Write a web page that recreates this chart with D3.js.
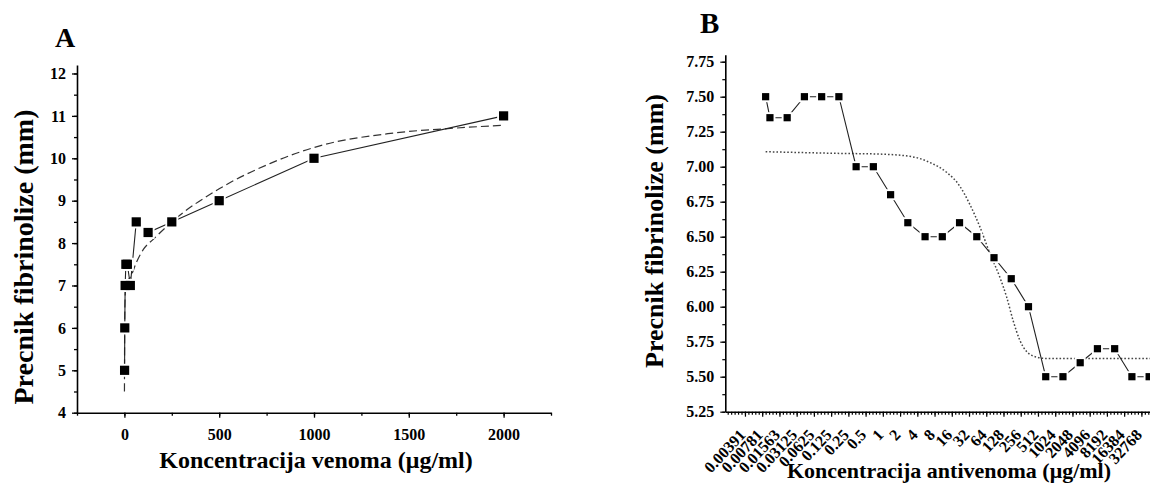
<!DOCTYPE html>
<html>
<head>
<meta charset="utf-8">
<script src="https://cdn.jsdelivr.net/npm/d3@7"></script>
<style>
  html, body { margin: 0; padding: 0; background: #fff; }
  svg text { font-family: "Liberation Serif", "Times New Roman", serif; font-weight: bold; fill: #000; }
</style>
</head>
<body>
<svg id="chart" width="1150" height="489"></svg>
<script>
// ---------- Panel A data ----------
const venomConc = [0.98, 1.95, 3.9, 7.8, 15.6, 31.25, 62.5, 125, 250, 500, 1000, 2000];
const venomDiam = [5, 6, 7, 7.5, 7.5, 7, 8.5, 8.25, 8.5, 9, 10, 11];
// fitted curve
const fitAConc = [0.3, 1, 2, 4, 8, 16, 32, 64, 100, 155, 250, 500, 770, 1035, 1390, 1740, 2000];
const fitADiam = [4.5, 5.6, 6.3, 6.75, 7.0, 7.1, 7.2, 7.55, 7.85, 8.1, 8.5, 9.28, 9.88, 10.3, 10.58, 10.71, 10.78];
const xTicksA = [0, 500, 1000, 1500, 2000];
const yTicksA = [4, 5, 6, 7, 8, 9, 10, 11, 12];

// ---------- Panel B data ----------
const antivenomLabels = ["0.00391", "0.00781", "0.01563", "0.03125", "0.0625", "0.125", "0.25", "0.5",
  "1", "2", "4", "8", "16", "32", "64", "128", "256", "512", "1024", "2048", "4096", "8192", "16384", "32768"];
const antivenomPos = [0.75, 1, 2, 3, 4, 5, 6, 7, 8, 9, 10, 11, 12, 13, 14, 15, 16, 17, 18, 19, 20, 21, 22, 23];
const antivenomDiam = [7.5, 7.35, 7.35, 7.5, 7.5, 7.5, 7.0, 7.0, 6.8, 6.6, 6.5, 6.5, 6.6, 6.5, 6.35, 6.2, 6.0,
  5.5, 5.5, 5.6, 5.7, 5.7, 5.5, 5.5];
// fitted sigmoid
const fitBPos = [0.75, 5.06, 7.4, 9.31, 10.28, 11.25, 12.02, 12.6, 13.18, 13.76, 14.34, 14.73, 15.11, 15.5, 15.89, 16.47, 17.05, 23.05];
const fitBDiam = [7.107, 7.095, 7.09, 7.07, 7.03, 6.96, 6.86, 6.73, 6.57, 6.38, 6.21, 6.07, 5.90, 5.76, 5.68, 5.64, 5.63, 5.63];
const yTicksB = [5.25, 5.5, 5.75, 6.0, 6.25, 6.5, 6.75, 7.0, 7.25, 7.5, 7.75];

const svg = d3.select("#chart");

// ================= Panel A =================
const xA = d3.scaleLinear().domain([-250, 2250]).range([77, 551]);
const yA = d3.scaleLinear().domain([4, 12.2]).range([412.7, 65]);
const gA = svg.append("g");

// minor ticks
gA.append("g").attr("transform", `translate(0,${yA(4)})`)
  .call(d3.axisBottom(xA).tickValues(d3.range(-250, 2251, 250)).tickSize(3).tickFormat(""))
  .call(g => g.select(".domain").remove());
gA.append("g").attr("transform", `translate(${xA(-250)},0)`)
  .call(d3.axisLeft(yA).tickValues(d3.range(4, 12.01, 0.5)).tickSize(3).tickFormat(""))
  .call(g => g.select(".domain").remove());
// major axes
const axAx = gA.append("g").attr("transform", `translate(0,${yA(4)})`)
  .call(d3.axisBottom(xA).tickValues(xTicksA).tickSize(5).tickPadding(11).tickSizeOuter(0)
    .tickFormat(d3.format("d")));
const axAy = gA.append("g").attr("transform", `translate(${xA(-250)},0)`)
  .call(d3.axisLeft(yA).tickValues(yTicksA).tickSize(5).tickPadding(6).tickSizeOuter(0)
    .tickFormat(d3.format("d")));
[axAx, axAy].forEach(a => {
  a.selectAll("text").attr("font-size", 16).attr("font-family", "Liberation Serif").attr("font-weight", "bold");
});
gA.selectAll(".domain").attr("stroke-width", 1.6);
gA.selectAll(".tick line").attr("stroke-width", 1.3);

// fit curve (dashed)
gA.append("path")
  .datum(fitAConc.map((c, i) => [c, fitADiam[i]]))
  .attr("fill", "none").attr("stroke", "#333").attr("stroke-width", 1.2)
  .attr("stroke-dasharray", "8,4")
  .attr("d", d3.line().x(d => xA(d[0])).y(d => yA(d[1])).curve(d3.curveMonotoneX));
// data line
const dataA = venomConc.map((c, i) => [c, venomDiam[i]]);
gA.append("path").datum(dataA)
  .attr("fill", "none").attr("stroke", "#222").attr("stroke-width", 1.1)
  .attr("d", d3.line().x(d => xA(d[0])).y(d => yA(d[1])));
// marker halos then markers
gA.append("g").selectAll("rect").data(dataA).join("rect")
  .attr("x", d => xA(d[0]) - 6.5).attr("y", d => yA(d[1]) - 6.5)
  .attr("width", 13).attr("height", 13).attr("fill", "#fff");
gA.append("g").selectAll("rect").data(dataA).join("rect")
  .attr("x", d => xA(d[0]) - 4.6).attr("y", d => yA(d[1]) - 4.6)
  .attr("width", 9.2).attr("height", 9.2).attr("fill", "#000");

// titles A
svg.append("text").attr("x", 55).attr("y", 46.7).attr("font-size", 28).text("A");
svg.append("text").attr("x", 316).attr("y", 468).attr("text-anchor", "middle").attr("font-size", 24)
  .text("Koncentracija venoma (μg/ml)");
svg.append("text").attr("transform", "translate(33,257) rotate(-90)").attr("text-anchor", "middle")
  .attr("font-size", 28).text("Precnik fibrinolize (mm)");

// ================= Panel B =================
const xB = d3.scaleLinear().domain([-1.59, 23.05]).range([725.3, 1150]);
const yB = d3.scaleLinear().domain([5.25, 7.8]).range([411.7, 54.7]);
const gB = svg.append("g");

const labelPos = antivenomLabels.map((l, j) => j - 0.45);
const minorB = d3.range(-1.45, 23.05, 0.2);
gB.append("g").attr("transform", `translate(0,${yB(5.25)})`)
  .call(d3.axisBottom(xB).tickValues(minorB).tickSize(3).tickFormat(""))
  .call(g => g.select(".domain").remove());
gB.append("g").attr("transform", `translate(${xB(-1.59)},0)`)
  .call(d3.axisLeft(yB).tickValues(d3.range(5.25, 7.76, 0.125)).tickSize(3).tickFormat(""))
  .call(g => g.select(".domain").remove());
const axBx = gB.append("g").attr("transform", `translate(0,${yB(5.25)})`)
  .call(d3.axisBottom(xB).tickValues(labelPos).tickSize(5).tickSizeOuter(0)
    .tickFormat((d, i) => antivenomLabels[i]));
axBx.selectAll("text")
  .attr("font-size", 16).attr("font-family", "Liberation Serif").attr("font-weight", "bold")
  .attr("text-anchor", "end").attr("dy", null).attr("y", 0)
  .attr("transform", "translate(1,24) rotate(-47)");
const axBy = gB.append("g").attr("transform", `translate(${xB(-1.59)},0)`)
  .call(d3.axisLeft(yB).tickValues(yTicksB).tickSize(5).tickPadding(6).tickSizeOuter(0)
    .tickFormat(d3.format(".2f")));
axBy.selectAll("text").attr("font-size", 16).attr("font-family", "Liberation Serif").attr("font-weight", "bold");
gB.selectAll(".domain").attr("stroke-width", 1.6);
gB.selectAll(".tick line").attr("stroke-width", 1.2);

// fit sigmoid (dotted)
gB.append("path")
  .datum(fitBPos.map((p, i) => [p, fitBDiam[i]]))
  .attr("fill", "none").attr("stroke", "#444").attr("stroke-width", 1.5)
  .attr("stroke-dasharray", "1.6,2")
  .attr("d", d3.line().x(d => xB(d[0])).y(d => yB(d[1])).curve(d3.curveMonotoneX));
const dataB = antivenomPos.map((p, i) => [p, antivenomDiam[i]]);
gB.append("path").datum(dataB)
  .attr("fill", "none").attr("stroke", "#222").attr("stroke-width", 1.1)
  .attr("d", d3.line().x(d => xB(d[0])).y(d => yB(d[1])));
gB.append("g").selectAll("rect").data(dataB).join("rect")
  .attr("x", d => xB(d[0]) - 5.5).attr("y", d => yB(d[1]) - 5.5)
  .attr("width", 11).attr("height", 11).attr("fill", "#fff");
gB.append("g").selectAll("rect").data(dataB).join("rect")
  .attr("x", d => xB(d[0]) - 3.6).attr("y", d => yB(d[1]) - 3.6)
  .attr("width", 7.2).attr("height", 7.2).attr("fill", "#000");

// titles B
svg.append("text").attr("x", 700).attr("y", 33.3).attr("font-size", 29).text("B");
svg.append("text").attr("x", 949).attr("y", 478).attr("text-anchor", "middle").attr("font-size", 22)
  .text("Koncentracija antivenoma (μg/ml)");
svg.append("text").attr("transform", "translate(663,231) rotate(-90)").attr("text-anchor", "middle")
  .attr("font-size", 26).text("Precnik fibrinolize (mm)");
</script>
</body>
</html>
